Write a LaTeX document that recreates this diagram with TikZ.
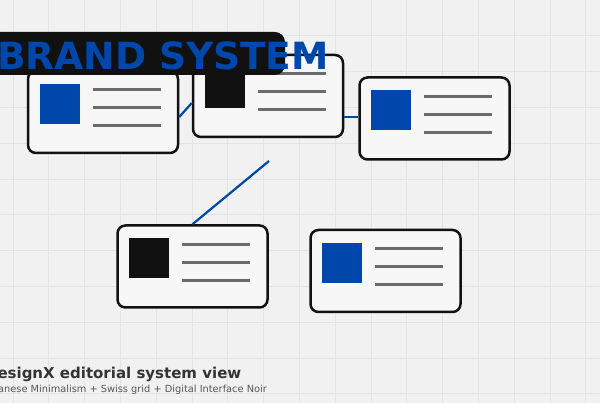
\documentclass[tikz,border=0pt]{standalone}
\usepackage{fontspec}
\setmainfont{DejaVu Sans}
\usetikzlibrary{calc}
\definecolor{bg}{HTML}{F1F1F1}
\definecolor{gridc}{HTML}{E4E4E4}
\definecolor{cardfill}{HTML}{F7F7F7}
\definecolor{brandblue}{HTML}{0047AB}
\definecolor{ink}{HTML}{111111}
\definecolor{rulegray}{HTML}{6B6B6B}
\definecolor{titlegray}{HTML}{333333}
\definecolor{subgray}{HTML}{555555}
\tikzset{
  cardbox/.style={draw=ink, line width=2.5pt, fill=cardfill, rounded corners=8pt,
    minimum width=150pt, minimum height=82pt, inner sep=0pt},
  wire/.style={draw=brandblue, line width=2.2pt},
  textrule/.style={draw=rulegray, line width=2.8pt},
  bannerbox/.style={fill=ink, rounded corners=10pt, inner sep=0pt},
}
\newcommand{\mycard}[4]{%
  \node[cardbox] (#1) at (#2,#3) {};
  \fill[#4] ($(#1.north west)+(13,14)$) rectangle ++(40,40);
  \foreach \dy in {20,38,56}{
    \draw[textrule] ($(#1.north west)+(66,\dy)$) -- ++(68,0);
  }
}
\begin{document}
\begin{tikzpicture}[x=1pt,y=-1pt]
\useasboundingbox (0,0) rectangle (600,403);
\fill[bg] (0,0) rectangle (600,403);
\foreach \k in {0,...,16}{
  \draw[gridc, line width=0.8pt] ({13+35.8*\k},0) -- ({13+35.8*\k},403);
}
\foreach \k in {1,...,11}{
  \draw[gridc, line width=0.8pt] (0,{35.8*\k}) -- (600,{35.8*\k});
}
% free end of the lower connector
\coordinate (dfree) at (269,161);
% cards
\mycard{A}{103}{112}{brandblue}
\mycard{B}{268}{96}{ink}
\mycard{C}{434.5}{118.5}{brandblue}
\mycard{D}{192.5}{266.5}{ink}
\mycard{E}{385.5}{271}{brandblue}
% connectors
\draw[wire] ($(A.east)+(0,5)$) -- ($(B.west)+(0,7)$);
\draw[wire] ($(B.east)+(0,21)$) -- ($(C.west)+(0,-1.5)$);
\draw[wire] (D.north) -- (dfree);
% banner
\node[bannerbox, minimum width=305pt, minimum height=43pt] (banner) at (132.5,53.5) {};
\node[anchor=base west, inner sep=0pt, text=brandblue, font=\bfseries\fontsize{37.5}{40}\selectfont] (title) at (-3,70) {BRAND SYSTEM};
% footer
\node[anchor=base east, inner sep=0pt, text=titlegray, font=\bfseries\fontsize{15}{18}\selectfont] (foot1) at (241.5,379) {DesignX editorial system view};
\node[anchor=base east, inner sep=0pt, text=subgray, font=\fontsize{9.8}{12}\selectfont] (foot2) at (267,392) {Japanese Minimalism + Swiss grid + Digital Interface Noir};
\end{tikzpicture}
\end{document}
